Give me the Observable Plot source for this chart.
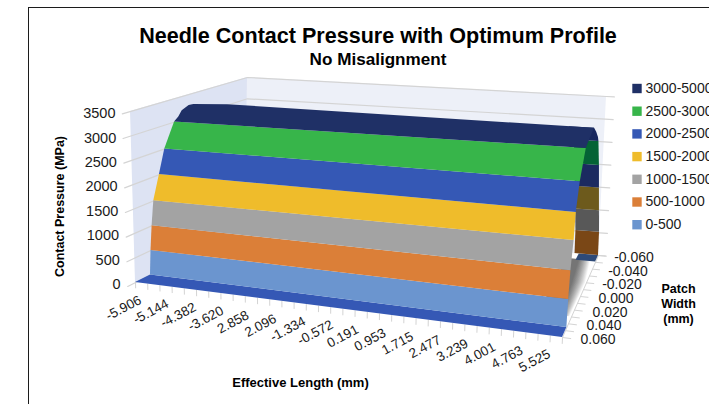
<!DOCTYPE html>
<html><head><meta charset="utf-8">
<script src="https://cdn.jsdelivr.net/npm/d3@7"></script>
<script src="https://cdn.jsdelivr.net/npm/@observablehq/plot@0.6"></script>
<style>
html,body{margin:0;padding:0;background:#fff;overflow:hidden}
#wrap{position:relative;width:709px;height:404px;overflow:hidden;font-family:"Liberation Sans",Arial,sans-serif}
#frame{position:absolute;left:28px;top:7px;width:700px;height:420px;border:1.3px solid #1c1c1c;box-sizing:border-box}
#wrap svg{position:absolute;left:0;top:0;background:transparent}
.t{position:absolute;left:28px;width:700px;text-align:center;font-weight:bold;color:#000;white-space:nowrap}
#title{top:23px;left:28px;width:700px;font-size:21.55px;line-height:26px}
#sub{top:50px;font-size:17.1px;line-height:19px}
</style></head><body>
<div id="wrap"><div id="frame"></div>
<div class="t" id="title">Needle Contact Pressure with Optimum Profile</div>
<div class="t" id="sub">No Misalignment</div>
</div>
<script>
// ---- chart data ----
const bandNames  = ["0-500","500-1000","1000-1500","1500-2000","2000-2500","2500-3000","3000-5000"];
const bandColors = ["#6b95cf","#db7f38","#a3a3a3","#efbc2b","#3558b5","#37b54a","#1f3066"];
const backColors = ["#7a4716","#585858","#6d5a1c","#1b2a60","#046335","#17275e"];
const floorFront = "#3558b5", floorBack = "#2e4a78";
const levels = [0,500,1000,1500,2000,2500,3000];
// width (mm) where the front of the surface reaches each level, at either end of the length axis
const frontWidthLeft  = [0.0438,0.0426,0.0408,0.0384,0.0319,0.0258,0.0152];
const frontWidthRight = [0.0454,0.0432,0.0396,0.0328,0.0294,0.0198,0.0036];
// crest of the surface, above 3000 MPa
const crestPressureLeft  = [3080,3190,3260,3250,3010];
const crestWidthLeft     = [0.0108,0.0072,0,-0.0048,-0.0396];
const crestPressureRight = [3040,3080,3120,3150,3167];
const crestWidthRight    = [-0.0012,-0.0072,-0.0144,-0.0192,-0.0228];
// back of the surface at the right end
const backPressure = [0,520,1050,1600,2135,2712,2825,3003,3167];
const backWidth    = [-0.06,-0.0594,-0.0552,-0.051,-0.0468,-0.0408,-0.0384,-0.0312,-0.0228];
const pressureTicks = [0,500,1000,1500,2000,2500,3000,3500];
const lengthLabels = ["-5.906","-5.144","-4.382","-3.620","2.858","2.096","-1.334","-0.572","0.191","0.953","1.715","2.477","3.239","4.001","4.763","5.525"];
const widthLabels = ["-0.060","-0.040","-0.020","0.000","0.020","0.040","0.060"];
const widthTickValues = [-0.06,-0.04,-0.02,0,0.02,0.04,0.06];
const lenMin=-5.906, lenMax=5.525, wMax=0.06, wSpan=0.12, pMax=3500;

// ---- box view: corner positions of the 3D box ----
const box = {FLB:[135,282],FRB:[562,337],BLB:[246,226],BRB:[598,255],
             FLT:[130,111],FRT:[570,147],BLT:[247,77], BRT:[606,96]};
const lerp=(a,b,t)=>a+(b-a)*t;
function P3(len,width,p){
  const u=(len-lenMin)/(lenMax-lenMin), v=(wMax-width)/wSpan, w=p/pMax;
  return [0,1].map(i=>{
    const bot=lerp(lerp(box.FLB[i],box.FRB[i],u),lerp(box.BLB[i],box.BRB[i],u),v);
    const top=lerp(lerp(box.FLT[i],box.FRT[i],u),lerp(box.BLT[i],box.BRT[i],u),v);
    return lerp(bot,top,w);
  });
}
// ribbon row between two 3D points
const row=(a,b)=>{const [x1,y1]=P3(...a),[x2,y2]=P3(...b);return {x1,y1,x2,y2};};
const ribbon=(rows,fill,extra={})=>Plot.area(rows,{x1:"x1",y1:"y1",x2:"x2",y2:"y2",fill,...extra});
const lineOf=(pts,opt)=>Plot.line(pts.map(p=>P3(...p)),{x:d=>d[0],y:d=>d[1],...opt});

const grid="#d4d4d4";
const marks=[];
// walls
marks.push(ribbon([row([lenMin,wMax,0],[lenMin,-wMax,0]),row([lenMin,wMax,pMax],[lenMin,-wMax,pMax])],"#dde3f3"));
marks.push(ribbon([row([lenMin,-wMax,0],[lenMax,-wMax,0]),row([lenMin,-wMax,pMax],[lenMax,-wMax,pMax])],"#edf0f8"));
// gridlines with their tick stubs
for(const p of pressureTicks){
  marks.push(lineOf([[lenMin,wMax+0.0084,p],[lenMin,-wMax,p],[lenMax,-wMax,p],[lenMax+0.25,-wMax,p]],{stroke:grid,strokeWidth:1.2}));
}
// soft shadow on the floor beside the surface (white floor under it)
marks.push(ribbon([row([4.6,wMax,0],[lenMax,wMax,0]),row([4.6,-wMax,0],[lenMax,-wMax,0])],"#fff"));
for(const r of d3.range(0,20)){
  const f=r/19;
  marks.push(ribbon([
    row([4.6,-0.052,0],[lerp(5.0,5.35,f),-0.052,0]),
    row([4.6,-0.02,0],[lerp(5.12,5.5,f),-0.02,0]),
    row([4.6,0.03,0],[lerp(5.25,5.48,f),0.03,0])
  ],"#000",{fillOpacity:0.035}));
}
// floor edge and ticks along the width axis
marks.push(lineOf([[lenMax,wMax,0],[lenMax,-wMax,0]],{stroke:grid,strokeWidth:1}));
for(const t of d3.range(0,13)){
  const wd=-wMax+t*wSpan/12;
  marks.push(lineOf([[lenMax,wd,0],[lenMax+0.22,wd,0]],{stroke:grid,strokeWidth:1}));
}
// ticks along the length axis
for(const t of d3.range(0,36)){
  const ln=lenMin+t*(lenMax-lenMin)/35;
  marks.push(lineOf([[ln,wMax,0],[ln,wMax,-110]],{stroke:grid,strokeWidth:1}));
}
// floor strip behind the surface
marks.push(ribbon([row([4.9,-0.0504,0],[lenMax,-0.0504,0]),row([4.9,-wMax,0],[lenMax,-wMax,0])],floorBack));
// back of the surface, visible only at the right end
const backStart=4.763;
const backBand=(i0,i1,fill)=>{
  const rows=d3.range(i0,i1+1).map(i=>row([backStart,backWidth[i],backPressure[i]],[lenMax,backWidth[i],backPressure[i]]));
  marks.push(ribbon(rows,fill));
};
backBand(0,1,backColors[0]);backBand(1,2,backColors[1]);backBand(2,3,backColors[2]);
backBand(3,4,backColors[3]);backBand(4,5,backColors[4]);backBand(5,8,backColors[5]);
// floor strip in front of the surface
marks.push(ribbon([row([lenMin,wMax,0],[lenMax,wMax,0]),row([lenMin,frontWidthLeft[0],0],[lenMax,frontWidthRight[0],0])],floorFront));
// coloured bands of the surface
levels.slice(0,-1).forEach((p,i)=>{
  marks.push(Plot.area([
    row([lenMin,frontWidthLeft[i],p],[lenMax,frontWidthRight[i],p]),
    row([lenMin,frontWidthLeft[i+1],levels[i+1]],[lenMax,frontWidthRight[i+1],levels[i+1]])
  ],{x1:"x1",y1:"y1",x2:"x2",y2:"y2",fill:()=>bandNames[i]}));
});
marks.push(Plot.area([
  row([lenMin,frontWidthLeft[6],3000],[lenMax,frontWidthRight[6],3000]),
  ...crestWidthLeft.map((w,i)=>row([lenMin,w,crestPressureLeft[i]],[lenMax,crestWidthRight[i],crestPressureRight[i]]))
],{x1:"x1",y1:"y1",x2:"x2",y2:"y2",fill:()=>bandNames[6]}));

// pressure tick labels
marks.push(Plot.text(pressureTicks,{x:p=>P3(lenMin,wMax,p)[0]-15,y:p=>P3(lenMin,wMax,p)[1]+2,text:p=>String(p),textAnchor:"end",fontSize:14.5,fill:"#1a1a1a"}));
// length tick labels
marks.push(Plot.text(lengthLabels,{
  x:(d,i)=>P3(lenMin+(lenMax-lenMin)*i/15*0.9625,wMax,0)[0]-12,
  y:(d,i)=>P3(lenMin+(lenMax-lenMin)*i/15*0.9625,wMax,0)[1]+25.5,
  text:d=>d,rotate:-28,fontSize:13.4,fill:"#1a1a1a"}));
// width tick labels
marks.push(Plot.text(widthLabels,{
  x:(d,i)=>P3(lenMax,widthTickValues[i],0)[0]+35.5,
  y:(d,i)=>P3(lenMax,widthTickValues[i],0)[1]+2,
  text:d=>d,fontSize:14,fill:"#1a1a1a"}));
// axis titles
const bold={fontWeight:"bold",fontSize:12.5,fill:"#000"};
marks.push(Plot.text(["Contact Pressure (MPa)"],{x:()=>59,y:()=>206,text:d=>d,rotate:-90,...bold}));
marks.push(Plot.text(["Effective Length (mm)"],{x:()=>300,y:()=>382,text:d=>d,...bold,fontSize:13}));
marks.push(Plot.text(["Patch","Width","(mm)"],{x:()=>678,y:(d,i)=>288+i*15,text:d=>d,...bold}));
// legend, top entry first
const legendOrder=[...bandNames].reverse();
marks.push(Plot.dot(legendOrder,{x:()=>636.5,y:(d,i)=>88+i*22.7,symbol:"square",r:5.3,fill:d=>d}));
marks.push(Plot.text(legendOrder,{x:()=>645,y:(d,i)=>88+i*22.7,text:d=>d,textAnchor:"start",fontSize:14,fill:"#1a1a1a"}));

const chart=Plot.plot({
  width:709,height:404,margin:0,
  x:{domain:[0,709],range:[0,709],axis:null},
  y:{domain:[0,404],range:[0,404],axis:null},
  color:{domain:bandNames,range:bandColors},
  style:{fontFamily:"Liberation Sans, Arial, sans-serif",background:"transparent"},
  marks
});
document.getElementById("wrap").appendChild(chart);
</script>
</body></html>
